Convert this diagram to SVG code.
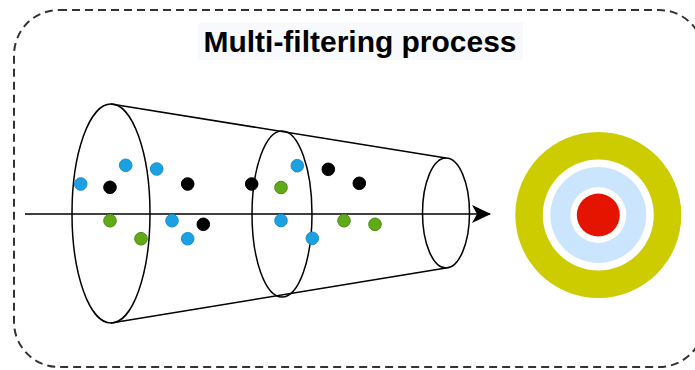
<svg xmlns="http://www.w3.org/2000/svg" width="695" height="370" viewBox="0 0 695 370">
  <defs>
    <marker id="arrowHead" viewBox="0 0 20 20" refX="18" refY="10" markerWidth="20" markerHeight="20" markerUnits="userSpaceOnUse" orient="auto">
      <path d="M0,1 L19,10 L0,19 L5,10 Z" fill="#000"/>
    </marker>
  </defs>
  <style>
    .frame { fill: none; stroke: #333; stroke-width: 2; stroke-dasharray: 8 5; }
    .title { font-family: "Liberation Sans", Arial, sans-serif; font-weight: bold; font-size: 29px; fill: #000; }
    .cone { fill: none; stroke: #000; stroke-width: 1.5; }
    .axis { fill: none; stroke: #000; stroke-width: 1.5; }
    .blue { fill: #1ba1e2; stroke: #1a8fd0; stroke-width: 1; }
    .green { fill: #60a917; stroke: #4a8f10; stroke-width: 1; }
    .black { fill: #000; stroke: #000; stroke-width: 1; }
  </style>

  <rect width="695" height="370" fill="#fff"/>

  <!-- dashed outer frame -->
  <rect id="frame" class="frame" x="14" y="10" width="690" height="357" rx="45" ry="45"/>

  <!-- heading -->
  <g id="title">
    <rect x="198" y="23" width="325" height="37" fill="#f7f9fc"/>
    <text class="title" x="360" y="52" text-anchor="middle" textLength="313" lengthAdjust="spacingAndGlyphs">Multi-filtering process</text>
  </g>

  <!-- filtering cone -->
  <g id="cone">
    <line class="cone" x1="111" y1="104" x2="446" y2="158"/>
    <line class="cone" x1="111" y1="323" x2="446" y2="268"/>
    <ellipse class="cone" cx="111" cy="213.5" rx="39" ry="109.5"/>
    <ellipse class="cone" cx="282" cy="214" rx="30" ry="83"/>
    <ellipse class="cone" cx="446" cy="213" rx="23.5" ry="55"/>
  </g>

  <!-- central axis -->
  <g id="connectors">
    <line class="axis" x1="25" y1="214" x2="490" y2="214" marker-end="url(#arrowHead)"/>
  </g>

  <!-- particles -->
  <g id="particles">
    <circle class="blue" cx="80.7" cy="184" r="6.3"/>
    <circle class="blue" cx="125.7" cy="165.3" r="6.3"/>
    <circle class="blue" cx="156.7" cy="169" r="6.3"/>
    <circle class="black" cx="110" cy="187.3" r="6.3"/>
    <circle class="black" cx="187.7" cy="184" r="6.3"/>
    <circle class="black" cx="251.7" cy="184" r="6.3"/>
    <circle class="green" cx="281" cy="187.5" r="6.3"/>
    <circle class="green" cx="110" cy="220.7" r="6.3"/>
    <circle class="green" cx="141" cy="238.7" r="6.3"/>
    <circle class="blue" cx="172" cy="220.7" r="6.3"/>
    <circle class="black" cx="203.3" cy="224.3" r="6.3"/>
    <circle class="blue" cx="187.7" cy="238.7" r="6.3"/>
    <circle class="blue" cx="281" cy="220.5" r="6.3"/>
    <circle class="blue" cx="297.3" cy="165.7" r="6.3"/>
    <circle class="black" cx="328.3" cy="169.3" r="6.3"/>
    <circle class="black" cx="359.3" cy="183.3" r="6.3"/>
    <circle class="blue" cx="312.3" cy="238.3" r="6.3"/>
    <circle class="green" cx="344" cy="220.7" r="6.3"/>
    <circle class="green" cx="375" cy="224.3" r="6.3"/>
  </g>

  <!-- target -->
  <g id="target">
    <circle cx="598.3" cy="215" r="83" fill="#cccc00"/>
    <circle cx="598.3" cy="215" r="55.5" fill="#fff"/>
    <circle cx="598.3" cy="215" r="48" fill="#cce5ff"/>
    <circle cx="598.3" cy="215" r="28" fill="#fff"/>
    <circle cx="598.3" cy="215" r="21.5" fill="#e51400"/>
  </g>
</svg>
